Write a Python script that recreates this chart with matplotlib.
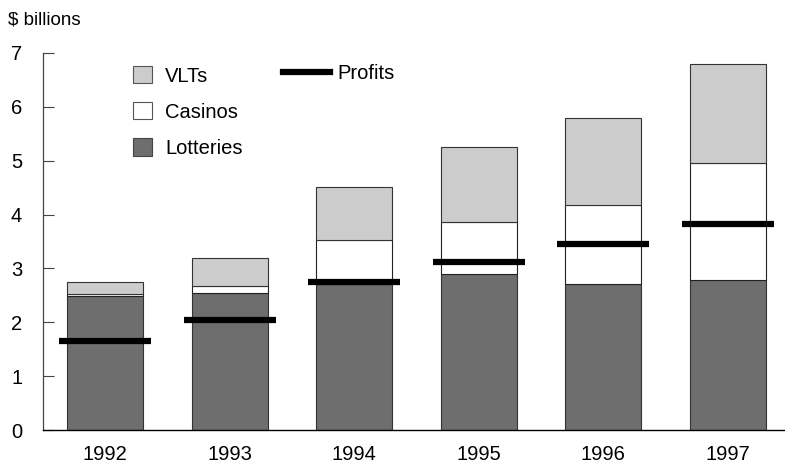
import numpy as np
import matplotlib
matplotlib.use("Agg")
import matplotlib.pyplot as plt
from matplotlib.patches import Patch
from matplotlib.lines import Line2D

plt.rcParams["font.family"] = ["Liberation Sans", "DejaVu Sans"]

years = ["1992", "1993", "1994", "1995", "1996", "1997"]
lotteries = [2.48, 2.55, 2.72, 2.90, 2.72, 2.78]
casinos = [0.04, 0.13, 0.80, 0.97, 1.46, 2.18]
vlts = [0.23, 0.52, 1.00, 1.38, 1.62, 1.84]
profits = [1.65, 2.04, 2.75, 3.12, 3.46, 3.82]

LOT_COLOR = "#6e6e6e"
CAS_COLOR = "#ffffff"
VLT_COLOR = "#cccccc"
FS = 14.5

fig = plt.figure(figsize=(7.85, 4.66), dpi=100)
ax = fig.add_axes([43 / 785, 36 / 466, 742 / 785, 377 / 466])

x = np.arange(len(years))
w = 0.61
lot = np.array(lotteries)
cas = np.array(casinos)
vlt = np.array(vlts)

ax.bar(x, lot, w, color=LOT_COLOR, edgecolor="#333333", linewidth=0.8, zorder=2)
ax.bar(x, cas, w, bottom=lot, color=CAS_COLOR, edgecolor="#222222", linewidth=0.8, zorder=2)
ax.bar(x, vlt, w, bottom=lot + cas, color=VLT_COLOR, edgecolor="#333333", linewidth=0.8, zorder=2)
ax.hlines(profits, x - 0.37, x + 0.37, colors="black", linewidth=4.5, zorder=3)

ax.set_xlim(-0.5, 5.46)
ax.set_ylim(0, 7)
ax.set_xticks(x)
ax.set_xticklabels(years, fontsize=FS)
ax.set_yticks(range(8))
ax.set_yticklabels([str(i) for i in range(8)], fontsize=FS)
ax.tick_params(axis="x", length=0, pad=11)
ax.tick_params(axis="y", direction="in", length=8, width=0.8, color="#444444", pad=15)
for s in ["top", "right"]:
    ax.spines[s].set_visible(False)
ax.spines["left"].set_color("#444444")
ax.spines["left"].set_linewidth(0.9)
ax.spines["bottom"].set_linewidth(1.0)

fig.text(8 / 785, 1 - 20 / 466, "$ billions", fontsize=FS - 1, va="center", ha="left")

handles = [
    Patch(facecolor=VLT_COLOR, edgecolor="#555555", linewidth=0.8),
    Patch(facecolor=CAS_COLOR, edgecolor="#555555", linewidth=0.8),
    Patch(facecolor=LOT_COLOR, edgecolor="#444444", linewidth=0.8),
]
fig.legend(handles, ["VLTs", "Casinos", "Lotteries"], loc="upper left",
           bbox_to_anchor=(133 / 785, 1 - 66 / 466), frameon=False,
           fontsize=FS, borderpad=0, borderaxespad=0, handlelength=0.95,
           handleheight=0.95, handletextpad=0.65, labelspacing=0.82)
fig.legend([Line2D([0], [0], color="black", linewidth=4.5)], ["Profits"],
           loc="upper left", bbox_to_anchor=(283 / 785, 1 - 64 / 466),
           frameon=False, fontsize=FS, borderpad=0, borderaxespad=0,
           handlelength=2.35, handletextpad=0.35)

fig.savefig("out.png", dpi=100)
